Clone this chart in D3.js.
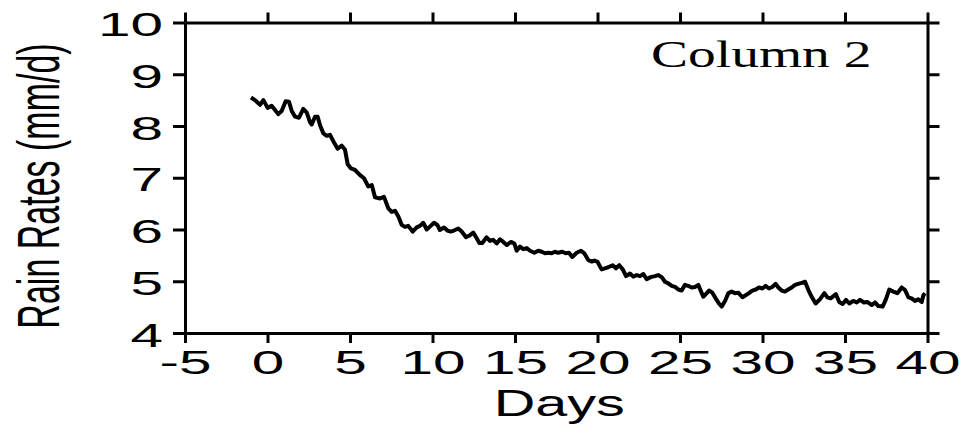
<!DOCTYPE html>
<html>
<head>
<meta charset="utf-8">
<script src="https://cdn.jsdelivr.net/npm/d3@7"></script>
<style>
  html, body { margin: 0; padding: 0; background: #fff; }
  svg { display: block; }
  text { font-family: "Liberation Sans", Arial, Helvetica, sans-serif; fill: #000; }
</style>
</head>
<body>
<div id="app"></div>
<script>
// values
const days = [-1.00,-0.76,-0.45,-0.25,0.01,0.25,0.41,0.65,0.86,1.10,1.30,1.47,1.67,1.91,2.17,2.38,2.58,2.68,2.88,3.04,
  3.18,3.38,3.59,3.79,4.05,4.25,4.50,4.70,4.86,5.06,5.30,5.61,5.85,6.11,6.32,6.52,6.82,7.06,7.32,7.53,
  7.73,7.93,8.13,8.33,8.53,8.80,9.04,9.24,9.44,9.65,9.89,10.09,10.29,10.45,10.70,10.90,11.10,11.30,11.56,11.77,
  12.03,12.27,12.47,12.68,12.84,13.02,13.28,13.48,13.68,13.89,14.09,14.29,14.50,14.76,14.96,15.10,15.30,15.50,15.71,15.91,
  16.17,16.41,16.62,16.82,17.02,17.22,17.42,17.62,17.87,18.07,18.27,18.47,18.74,19.00,19.20,19.44,19.65,19.81,19.99,20.25,
  20.45,20.65,20.92,21.12,21.32,21.53,21.73,21.97,22.17,22.38,22.58,22.78,22.98,23.22,23.48,23.68,23.89,24.09,24.29,24.50,
  24.70,24.90,25.10,25.30,25.50,25.71,25.91,26.11,26.25,26.41,26.62,26.76,26.96,27.16,27.36,27.53,27.73,27.93,28.13,28.33,
  28.53,28.78,28.98,29.18,29.38,29.59,29.79,29.99,30.19,30.39,30.59,30.80,30.96,31.16,31.36,31.56,31.77,31.97,32.17,32.38,
  32.58,32.78,32.98,33.22,33.48,33.75,33.93,34.13,34.45,34.65,34.86,35.06,35.26,35.50,35.71,35.91,36.15,36.35,36.62,36.82,
  37.02,37.28,37.48,37.68,37.93,38.17,38.44,38.64,38.84,39.04,39.24,39.44,39.65,39.75,39.85];

const rain = [8.55,8.50,8.41,8.50,8.35,8.39,8.33,8.23,8.29,8.48,8.47,8.29,8.18,8.16,8.33,8.26,8.07,8.03,8.18,8.18,
  8.02,7.86,7.81,7.83,7.67,7.56,7.62,7.54,7.26,7.18,7.15,7.05,6.99,6.83,6.86,6.62,6.60,6.63,6.41,6.34,
  6.36,6.25,6.09,6.05,6.07,5.96,6.04,6.07,6.13,6.00,6.07,6.13,6.09,5.99,6.04,5.98,5.96,5.98,6.02,5.96,
  5.85,5.89,5.94,5.83,5.74,5.74,5.85,5.78,5.80,5.73,5.81,5.76,5.70,5.76,5.73,5.59,5.67,5.62,5.64,5.59,
  5.55,5.59,5.57,5.54,5.55,5.54,5.57,5.55,5.57,5.54,5.55,5.47,5.55,5.59,5.54,5.41,5.38,5.40,5.38,5.23,
  5.25,5.27,5.31,5.25,5.31,5.23,5.10,5.15,5.09,5.12,5.10,5.14,5.04,5.08,5.10,5.12,5.08,4.99,4.96,4.91,
  4.89,4.84,4.82,4.93,4.91,4.88,4.89,4.93,4.82,4.70,4.77,4.82,4.78,4.67,4.57,4.51,4.62,4.77,4.80,4.77,
  4.78,4.69,4.73,4.77,4.82,4.84,4.88,4.86,4.91,4.86,4.89,4.95,4.88,4.82,4.80,4.84,4.88,4.93,4.95,4.97,
  4.99,4.83,4.70,4.57,4.65,4.77,4.69,4.67,4.75,4.60,4.56,4.64,4.57,4.62,4.59,4.64,4.59,4.60,4.54,4.59,
  4.52,4.51,4.65,4.84,4.80,4.77,4.88,4.83,4.69,4.67,4.62,4.65,4.60,4.73,4.77];

const xTicks = [-5, 0, 5, 10, 15, 20, 25, 30, 35, 40];
const yTicks = [4, 5, 6, 7, 8, 9, 10];
const xLabel = 'Days';
const yLabel = 'Rain Rates (mm/d)';
const panelTitle = 'Column 2';

const width = 967, height = 426;
const margin = { top: 22.5, right: 39.5, bottom: 93, left: 185 };
const stretch = 1.72; // the picture is stretched sideways
const plain = d => String(d); // hyphen minus, no decimals

const svg = d3.select('#app').append('svg')
  .attr('width', width)
  .attr('height', height);

const x = d3.scaleLinear().domain([-5, 40]).range([margin.left, width - margin.right]);
const y = d3.scaleLinear().domain([4, 10]).range([height - margin.bottom, margin.top]);

const styleAxis = g => {
  g.select('.domain').attr('stroke', '#000').attr('stroke-width', 3);
  g.selectAll('.tick line').attr('stroke', '#000').attr('stroke-width', 3);
};

// bottom
svg.append('g')
  .attr('transform', `translate(0,${y(4)})`)
  .call(d3.axisBottom(x).tickValues(xTicks).tickFormat(plain).tickSize(10).tickSizeOuter(0).tickPadding(0))
  .call(styleAxis)
  .call(g => g.selectAll('.tick text')
    .attr('font-size', 34)
    .attr('y', 0)
    .attr('dy', 0)
    .attr('transform', `translate(0,41) scale(${stretch},1)`));

// left
svg.append('g')
  .attr('transform', `translate(${x(-5)},0)`)
  .call(d3.axisLeft(y).tickValues(yTicks).tickFormat(plain).tickSize(12).tickSizeOuter(0).tickPadding(0))
  .call(styleAxis)
  .call(g => g.selectAll('.tick text')
    .attr('font-size', 34)
    .attr('x', 0)
    .attr('dy', 0)
    .attr('transform', `translate(-22,13) scale(${stretch},1)`));

// top and right, ticks only
svg.append('g')
  .attr('transform', `translate(0,${y(10)})`)
  .call(d3.axisTop(x).tickValues(xTicks).tickSize(10).tickSizeOuter(0).tickFormat(''))
  .call(styleAxis);

svg.append('g')
  .attr('transform', `translate(${x(40)},0)`)
  .call(d3.axisRight(y).tickValues(yTicks).tickSize(12).tickSizeOuter(0).tickFormat(''))
  .call(styleAxis);

// data line
const line = d3.line()
  .x((d, i) => x(days[i]))
  .y(d => y(d));

svg.append('path')
  .datum(rain)
  .attr('fill', 'none')
  .attr('stroke', '#000')
  .attr('stroke-width', 4)
  .attr('stroke-linejoin', 'round')
  .attr('d', line);

// labels
svg.append('text')
  .attr('text-anchor', 'middle')
  .attr('font-size', 36)
  .attr('transform', `translate(${x(17.5) + 3},416) scale(1.6,1)`)
  .text(xLabel);

svg.append('text')
  .attr('text-anchor', 'middle')
  .attr('font-size', 34)
  .attr('transform', 'translate(59,186) rotate(-90) scale(1,1.72)')
  .text(yLabel);

svg.append('text')
  .attr('text-anchor', 'middle')
  .attr('font-size', 37)
  .style('font-family', '"Liberation Serif", "Times New Roman", serif')
  .attr('transform', `translate(${x(29.8) + 2},67) scale(1.5,1)`)
  .text(panelTitle);
</script>
</body>
</html>
